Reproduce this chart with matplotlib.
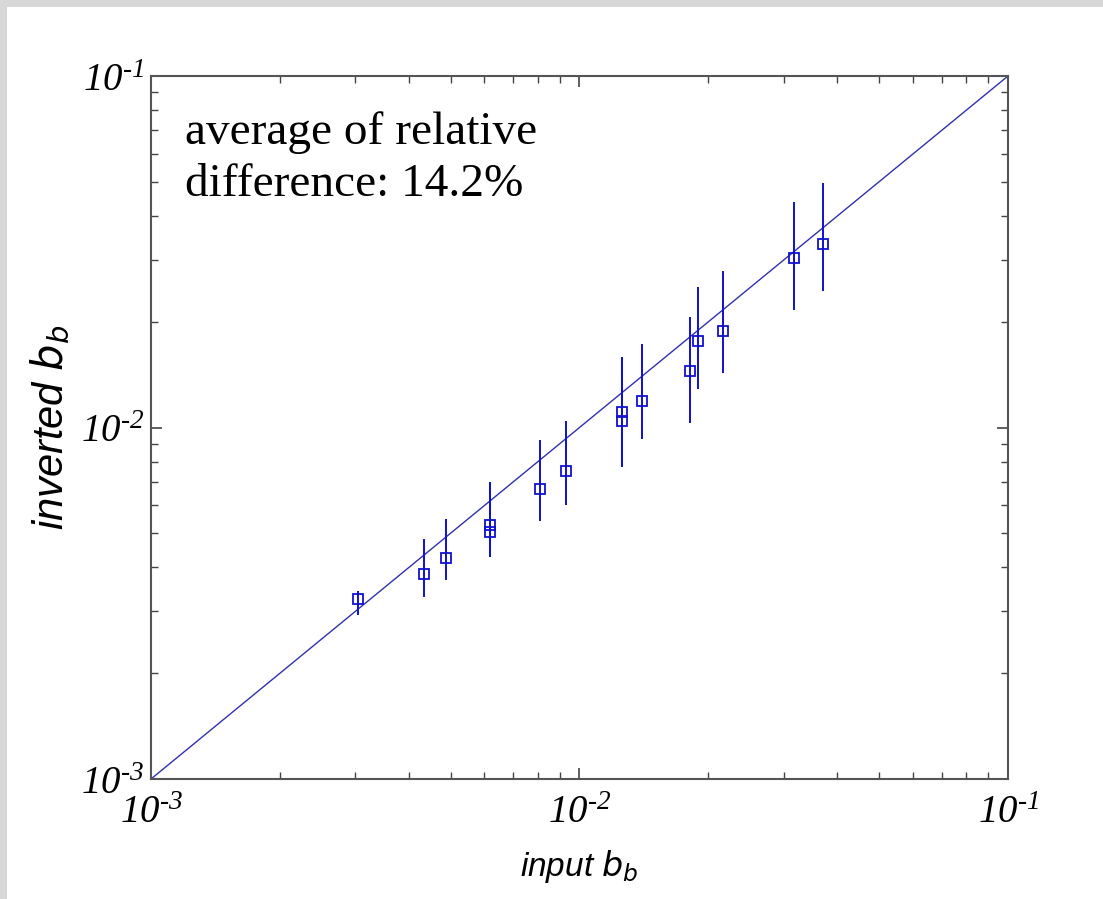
import matplotlib
matplotlib.use('Agg')
import matplotlib.pyplot as plt
import numpy as np
from matplotlib.patches import Rectangle

plt.rcParams['mathtext.fontset'] = 'custom'
plt.rcParams['mathtext.it'] = 'Liberation Serif:italic'
plt.rcParams['mathtext.rm'] = 'Liberation Serif:italic'

# data
input_bb = [0.00304, 0.00433, 0.00488, 0.00619, 0.00619, 0.00809, 0.00930,
            0.01256, 0.01256, 0.01401, 0.01808, 0.01894, 0.02163, 0.03171, 0.03707]
inverted_bb = [0.00325, 0.00382, 0.00425, 0.00528, 0.00505, 0.00667, 0.00754,
               0.01105, 0.01041, 0.01192, 0.01447, 0.01758, 0.01886, 0.03041, 0.03320]
err_low = [0.00293, 0.00330, 0.00368, 0.00427, 0.00427, 0.00542, 0.00602,
           0.00774, 0.00774, 0.00927, 0.01032, 0.01285, 0.01426, 0.02163, 0.02450]
err_high = [0.00343, 0.00481, 0.00549, 0.00701, 0.00701, 0.00921, 0.01045,
            0.01584, 0.01584, 0.01728, 0.02066, 0.02506, 0.02787, 0.04372, 0.04952]
one_to_one = [1e-3, 1e-1]
tick_vals = [1e-3, 1e-2, 1e-1]
tick_labels = [r'$\mathit{10}^{\text{-3}}$', r'$\mathit{10}^{\text{-2}}$', r'$\mathit{10}^{\text{-1}}$']

fig = plt.figure(figsize=(11.03, 8.99), dpi=100, facecolor='#d8d8d8')
bg = Rectangle((7 / 1103, 0), 1, 1 - 7 / 899, transform=fig.transFigure,
               facecolor='white', edgecolor='none', zorder=-10)
fig.patches.append(bg)

ax = fig.add_axes([151 / 1103, 1 - 779 / 899, 857 / 1103, 703 / 899])
ax.set_zorder(5)
ax.set_xscale('log')
ax.set_yscale('log')
ax.set_xlim(1e-3, 1e-1)
ax.set_ylim(1e-3, 1e-1)

ax.plot(one_to_one, one_to_one, color='#3030b0', lw=1.0)

y = np.array(inverted_bb)
yerr = [y - np.array(err_low), np.array(err_high) - y]
ax.errorbar(input_bb, inverted_bb, yerr=yerr, fmt='s', mfc='none', mec='#1010d0',
            ms=7.5, mew=1.3, ecolor='#1010d0', elinewidth=1.4, capsize=0)

ax.set_xticks(tick_vals)
ax.set_xticklabels(tick_labels)
ax.set_yticks(tick_vals)
ax.set_yticklabels(tick_labels)
ax.tick_params(which='both', direction='in', top=True, right=True, color='#444444')
ax.tick_params(which='major', length=8, width=1.2, labelsize=28)
ax.tick_params(axis='x', which='major', pad=10)
ax.tick_params(axis='y', which='major', pad=5)
ax.tick_params(which='minor', length=5, width=1.0)
for s in ax.spines.values():
    s.set_color('#555555')
    s.set_linewidth(1.5)

ax.set_xlabel(r'input $b_b$', fontfamily='Liberation Sans', fontstyle='italic',
              fontsize=24, math_fontfamily='dejavusans', labelpad=12)
ax.set_ylabel(r'inverted $b_b$', fontfamily='Liberation Sans', fontstyle='italic',
              fontsize=30, math_fontfamily='dejavusans', labelpad=6)

ax.text(0.04, 0.95, 'average of relative\ndifference: 14.2%', transform=ax.transAxes,
        fontfamily='Liberation Serif', fontsize=34, va='top', ha='left', linespacing=1.3)

fig.savefig('out.png', dpi=100, facecolor=fig.get_facecolor())
